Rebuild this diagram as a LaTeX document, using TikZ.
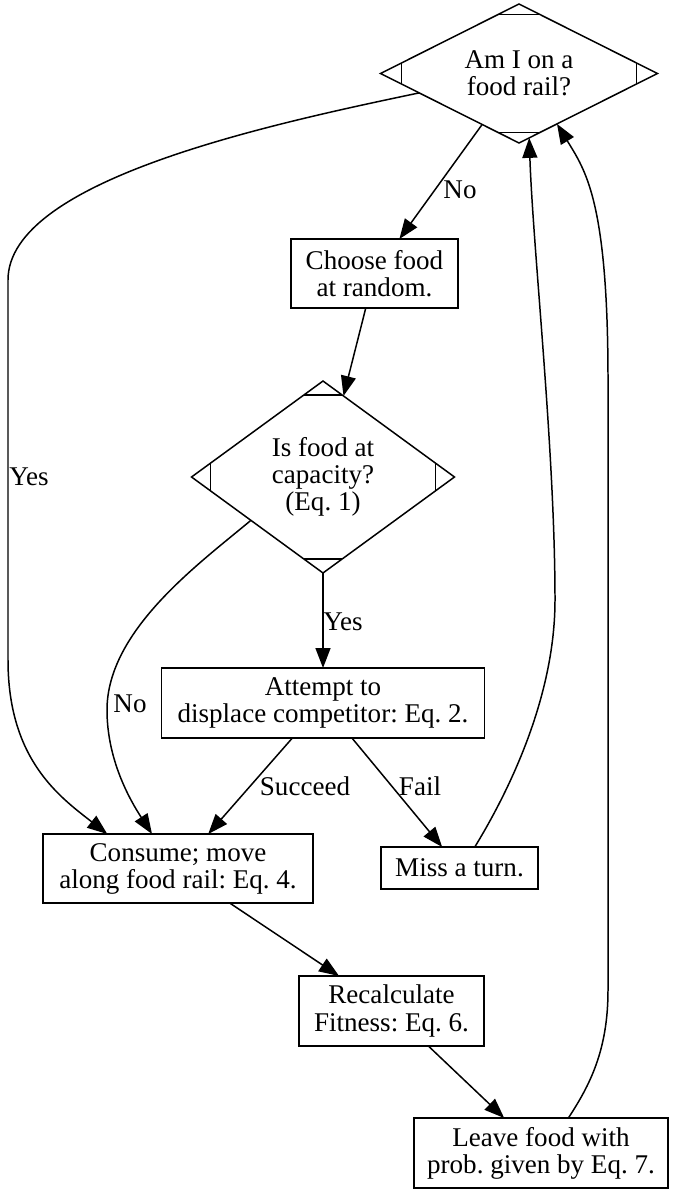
\documentclass[tikz,border=0pt]{standalone}
\usepackage{fontspec}
\setmainfont{Liberation Serif}
\frenchspacing
\usetikzlibrary{arrows.meta}
\usetikzlibrary{calc,shapes.geometric}
\tikzset{>={Triangle[length=0.4cm,width=0.3cm]}}
\tikzstyle{box} = [draw, rectangle, align=center, inner sep=0pt, outer sep=0pt]
\tikzstyle{decision} = [draw, diamond, aspect=2, align=center, inner sep=0pt, outer sep=0pt]
\tikzstyle{lbl} = [inner sep=0pt]
\tikzstyle{flow} = [->, line width=0.85pt]

\begin{document}
\begin{tikzpicture}[x=0.02cm,y=-0.02cm,line width=0.85pt,
    font=\fontsize{15.4}{15.4}\selectfont]
  \def\cut{0.47cm} % corner marks of the decisions
  \useasboundingbox (0,0) rectangle (676,1195);

  % STEPS
  \node[decision, minimum width=5.54cm, minimum height=2.78cm] (d1) at (519,73.5) {Am I on a\\food rail?};
  \node[box, minimum width=3.34cm, minimum height=1.38cm] (b1) at (374.5,273.5) {Choose food\\at random.};
  \node[decision, aspect=1.37, minimum width=5.26cm, minimum height=3.84cm] (d2) at (323,477) {Is food at\\capacity?\\(Eq. 1)};
  \node[box, minimum width=6.46cm, minimum height=1.40cm] (b2) at (323,703) {Attempt to\\displace competitor: Eq. 2.};
  \node[box, minimum width=5.40cm, minimum height=1.38cm] (b3) at (178,868.5) {Consume; move\\along food rail: Eq. 4.};
  \node[box, minimum width=3.14cm, minimum height=0.84cm] (b4) at (459.5,868) {Miss a turn.};
  \node[box, minimum width=3.70cm, minimum height=1.40cm] (b5) at (391.5,1011) {Recalculate\\Fitness: Eq. 6.};
  \node[box, minimum width=5.08cm, minimum height=1.40cm] (b6) at (541,1153) {Leave food with\\prob. given by Eq. 7.};

  \foreach \n in {d1,d2}{
    \draw ($(\n.north)!\cut!(\n.west)$) -- ($(\n.north)!\cut!(\n.east)$);
    \draw ($(\n.south)!\cut!(\n.west)$) -- ($(\n.south)!\cut!(\n.east)$);
    \draw ($(\n.west)!\cut!(\n.north)$) -- ($(\n.west)!\cut!(\n.south)$);
    \draw ($(\n.east)!\cut!(\n.north)$) -- ($(\n.east)!\cut!(\n.south)$);
  }

  % EDGES
  \draw[flow] (d1) -- (b1);
  \draw[flow] (b1) -- (d2);
  \draw[flow] (d2) -- (b2);
  \draw[flow] (b2) -- (b3);
  \draw[flow] (b2) -- (b4);
  \draw[flow] (b3) -- (b5);
  \draw[flow] (b5) -- (b6);
  \draw[flow] (d1.191) .. controls (271,124) and (8,180) .. (8,280) -- (8,660)
    .. controls (8,760) and (60,797) .. (b3.154);
  \draw[flow] (d2.211) .. controls (200,563) and (107,630) .. (107,710)
    .. controls (107,760) and (130,800) .. (b3.127);
  \draw[flow] (b4.54) .. controls (506,796) and (555,700) .. (555,600)
    .. controls (555,450) and (533,250) .. (d1.279);
  \draw[flow] (b6.52) .. controls (590,1085) and (608,1050) .. (608,990) -- (608,380)
    .. controls (608,200) and (585,170) .. (d1.307);

  % LABELS
  \node[lbl] (lno1) at (460,190) {No};
  \node[lbl] (lyes1) at (29,477) {Yes};
  \node[lbl] (lyes2) at (343,621.5) {Yes};
  \node[lbl] (lno2) at (130,704) {No};
  \node[lbl] (lsucc) at (305,786) {Succeed};
  \node[lbl] (lfail) at (420,786) {Fail};
\end{tikzpicture}
\end{document}
